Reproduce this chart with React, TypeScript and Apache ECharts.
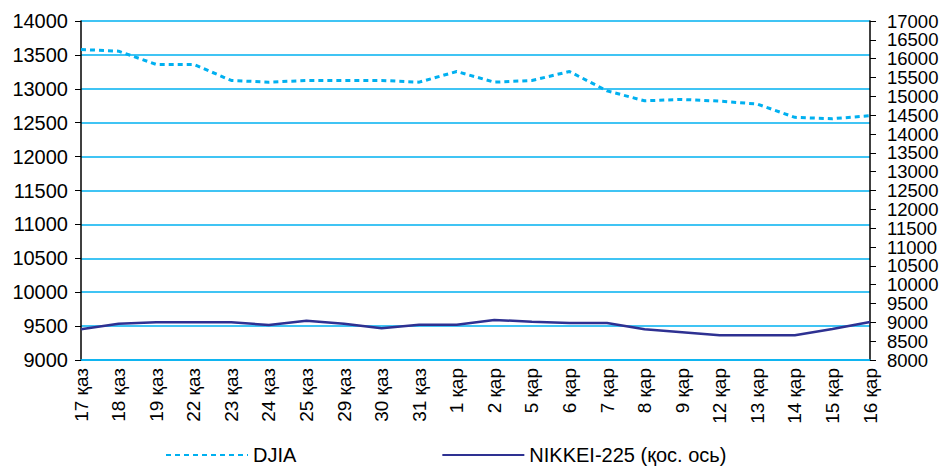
import React, { useEffect, useRef } from "react";
import * as echarts from "echarts";

const categories = [
  "17 қаз", "18 қаз", "19 қаз", "22 қаз", "23 қаз", "24 қаз", "25 қаз", "29 қаз", "30 қаз", "31 қаз",
  "1 қар", "2 қар", "5 қар", "6 қар", "7 қар", "8 қар", "9 қар", "12 қар", "13 қар", "14 қар", "15 қар", "16 қар",
];
const djia = [
  13580, 13555, 13360, 13360, 13123, 13098, 13123, 13123, 13123, 13098,
  13255, 13098, 13123, 13255, 12970, 12823, 12843, 12818, 12775, 12579, 12559, 12603,
];
const nikkei = [
  8815, 8964, 9000, 9000, 9000, 8929, 9044, 8964, 8841, 8938,
  8938, 9062, 9018, 8982, 8982, 8815, 8735, 8655, 8655, 8655, 8823, 9009,
];
const seriesNames = ["DJIA", "NIKKEI-225 (қос. ось)"];

const FONT = "'Liberation Sans', Arial, sans-serif";
const plain = (v: number) => String(v);

export default function App() {
  const ref = useRef<HTMLDivElement>(null);
  useEffect(() => {
    document.body.style.margin = "0";
    const chart = echarts.init(ref.current!, null, { renderer: "svg" });
    chart.setOption({
      animation: false,
      grid: { left: 81, right: 79, top: 21, bottom: 106, containLabel: false },
      legend: {
        left: 160,
        top: 440,
        itemWidth: 82,
        itemHeight: 10,
        itemGap: 145,
        itemStyle: { opacity: 0 },
        textStyle: { fontFamily: FONT, fontSize: 20, color: "#000" },
        data: seriesNames,
      },
      xAxis: {
        type: "category",
        data: categories,
        boundaryGap: false,
        axisLine: { lineStyle: { color: "#00B0F0", width: 1.5 } },
        axisTick: { show: false },
        axisLabel: {
          rotate: 90,
          interval: 0,
          margin: 8,
          fontFamily: FONT,
          fontSize: 19,
          color: "#000",
        },
        splitLine: { show: false },
      },
      yAxis: [
        {
          type: "value",
          min: 9000,
          max: 14000,
          interval: 500,
          axisLine: { show: true, lineStyle: { color: "#000", width: 1.5 } },
          axisTick: { show: true, length: 6, lineStyle: { color: "#000" } },
          axisLabel: {
            margin: 13, fontFamily: FONT, fontSize: 20, color: "#000",
            formatter: plain, showMinLabel: true, showMaxLabel: true,
          },
          splitLine: { show: true, lineStyle: { color: "#00B0F0", width: 1.5 } },
        },
        {
          type: "value",
          min: 8000,
          max: 17000,
          interval: 500,
          position: "right",
          axisLine: { show: true, lineStyle: { color: "#000", width: 1.5 } },
          axisTick: { show: true, length: 6, lineStyle: { color: "#000" } },
          axisLabel: {
            margin: 17, fontFamily: FONT, fontSize: 18.5, lineHeight: 18, color: "#000",
            formatter: plain, showMinLabel: true, showMaxLabel: true, hideOverlap: false,
          },
          splitLine: { show: false },
        },
      ],
      series: [
        {
          name: seriesNames[0],
          type: "line",
          data: djia,
          yAxisIndex: 0,
          symbol: "none",
          lineStyle: { color: "#00B0F0", width: 3, type: [5, 4] },
          itemStyle: { color: "#00B0F0" },
        },
        {
          name: seriesNames[1],
          type: "line",
          data: nikkei,
          yAxisIndex: 1,
          symbol: "none",
          lineStyle: { color: "#2E3192", width: 2.5 },
          itemStyle: { color: "#2E3192" },
        },
      ],
    });
    return () => chart.dispose();
  }, []);
  return <div ref={ref} style={{ width: 949, height: 466 }} />;
}
